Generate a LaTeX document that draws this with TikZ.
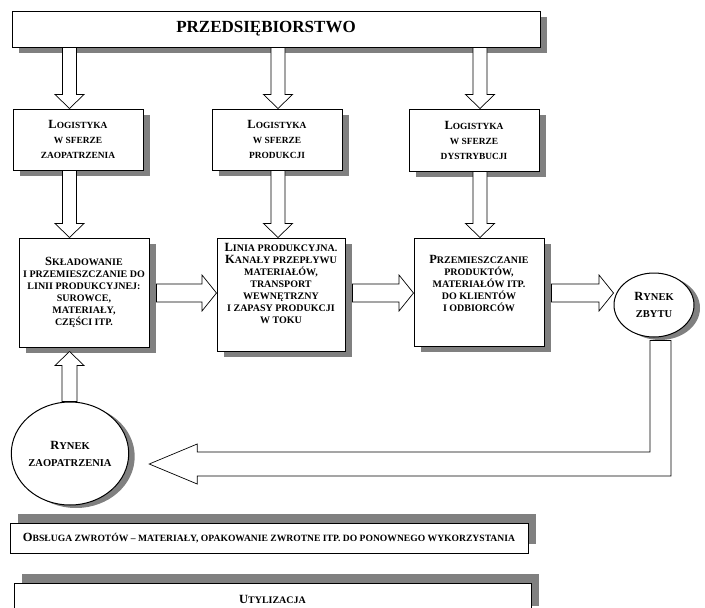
\documentclass[tikz,border=0pt]{standalone}
\usepackage{fontspec}
\setmainfont{Liberation Serif}
\usetikzlibrary{calc,shadows,shapes.geometric}
\definecolor{cienSzary}{HTML}{808080}
\newcommand{\wielka}[1]{{\fontsize{12.5}{12}\selectfont #1}}

\begin{document}
\begin{tikzpicture}[x=1pt,y=-1pt,
  ramka/.style={draw,line width=1pt,fill=white,inner sep=0pt},
  cien/.style={drop shadow={shadow xshift=7pt,shadow yshift=-6pt,fill=cienSzary,opacity=1}},
  cienKolo/.style={drop shadow={shadow xshift=6pt,shadow yshift=-3pt,fill=cienSzary,opacity=1}},
  cienGora/.style={drop shadow={shadow xshift=8pt,shadow yshift=9pt,fill=cienSzary,opacity=1}},
  tekstA/.style={font=\fontsize{9.4}{15}\selectfont\bfseries,align=center},
  tekstB/.style={font=\fontsize{10}{12}\selectfont\bfseries,align=center},
  tekstC/.style={font=\fontsize{10.5}{17}\selectfont\bfseries,align=center},
  blok/.style={draw,line width=0.7pt,fill=white},
  strzDol/.style={blok,to path={let \p1=(\tikztostart),\p2=(\tikztotarget) in
    (\x1-7pt,\y1) -- (\x1-7pt,\y2+14pt) -- (\x1-14.5pt,\y2+14pt) -- (\x1,\y2)
    -- (\x1+14.5pt,\y2+14pt) -- (\x1+7pt,\y2+14pt) -- (\x1+7pt,\y1) -- cycle}},
  strzGora/.style={blok,to path={let \p1=(\tikztostart),\p2=(\tikztotarget) in
    (\x1-7.5pt,\y1) -- (\x1-7.5pt,\y2-14pt) -- (\x1-14.5pt,\y2-14pt) -- (\x1,\y2)
    -- (\x1+14.5pt,\y2-14pt) -- (\x1+7.5pt,\y2-14pt) -- (\x1+7.5pt,\y1) -- cycle}},
  strzPrawo/.style={blok,to path={let \p1=(\tikztostart),\p2=(\tikztotarget) in
    (\x1,\y1+9pt) -- (\x2-14.5pt,\y1+9pt) -- (\x2-14.5pt,\y1+18pt) -- (\x2,\y1)
    -- (\x2-14.5pt,\y1-18pt) -- (\x2-14.5pt,\y1-9pt) -- (\x1,\y1-9pt) -- cycle}}]
\clip (0,0) rectangle (705,608);
\fill[white] (0,0) rectangle (705,608);

\coordinate (kol1) at (69.5,0);
\coordinate (kol2) at (278,0);
\coordinate (kol3) at (480,0);
\coordinate (wiersz) at (0,293);
\coordinate (zwrot) at (660.5,464);

% przedsiebiorstwo
\node[ramka,cien,minimum width=528pt,minimum height=36pt,font=\fontsize{17}{20}\selectfont\bfseries] (firma) at (276,29) {PRZEDSIĘBIORSTWO\hspace*{20pt}};

% logistyka
\node[ramka,cien,tekstA,minimum width=130pt,minimum height=61pt] (zaopLog) at (78,139.5) {\wielka{L}OGISTYKA\\W SFERZE\\ZAOPATRZENIA};
\node[ramka,cien,tekstA,minimum width=130pt,minimum height=61pt] (prodLog) at (277,139.5) {\wielka{L}OGISTYKA\\W SFERZE\\PRODUKCJI};
\node[ramka,cien,tekstA,minimum width=130pt,minimum height=62pt] (dystLog) at (474,140) {\wielka{L}OGISTYKA\\W SFERZE\\DYSTRYBUCJI};

% przeplyw
\node[ramka,cien,tekstB,minimum width=130pt,minimum height=109pt] (skladowanie) at (84,292.5) {\wielka{S}KŁADOWANIE\\I PRZEMIESZCZANIE DO\\LINII PRODUKCYJNEJ:\\SUROWCE,\\MATERIAŁY,\\CZĘŚCI ITP.};
\node[ramka,cien,minimum width=128pt,minimum height=113pt] (linia) at (281,294.5) {};
\node[tekstB] (liniaTekst) at (281,283) {\wielka{L}INIA PRODUKCYJNA.\\\wielka{K}ANAŁY PRZEPŁYWU\\MATERIAŁÓW,\\TRANSPORT\\WEWNĘTRZNY\\I ZAPASY PRODUKCJI\\W TOKU};
\node[ramka,cien,minimum width=130pt,minimum height=108pt] (przemieszczanie) at (479,292) {};
\node[tekstB] (przemTekst) at (479,283) {\wielka{P}RZEMIESZCZANIE\\PRODUKTÓW,\\MATERIAŁÓW ITP.\\DO KLIENTÓW\\I ODBIORCÓW};

% rynki
\node[ramka,ellipse,cienKolo,tekstC,minimum width=80pt,minimum height=64pt] (zbyt) at (654,305) {\wielka{R}YNEK\\ZBYTU};
\node[ramka,ellipse,cienKolo,tekstC,minimum width=108pt,minimum height=103pt] (zaop) at (70,453.5) {\wielka{R}YNEK\\ZAOPATRZENIA};

% zwroty i utylizacja
\node[ramka,cienGora,tekstB,font=\fontsize{9.6}{12}\selectfont\bfseries,minimum width=518pt,minimum height=30pt] (obsluga) at (269,538) {\wielka{O}BSŁUGA ZWROTÓW – MATERIAŁY, OPAKOWANIE ZWROTNE ITP. DO PONOWNEGO WYKORZYSTANIA};
\node[ramka,cienGora,tekstB,minimum width=517pt,minimum height=32pt] (utylizacja) at (272.5,599) {\wielka{U}TYLIZACJA};

% strzalki
\draw[strzDol] (firma.south -| kol1) to (zaopLog.north -| kol1);
\draw[strzDol] (firma.south -| kol2) to (prodLog.north -| kol2);
\draw[strzDol] (firma.south -| kol3) to (dystLog.north -| kol3);
\draw[strzDol] (zaopLog.south -| kol1) to (skladowanie.north -| kol1);
\draw[strzDol] (prodLog.south -| kol2) to (linia.north -| kol2);
\draw[strzDol] (dystLog.south -| kol3) to (przemieszczanie.north -| kol3);
\draw[strzGora] (zaop.north -| kol1) to ($(skladowanie.south -| kol1)+(0,4)$);
\draw[strzPrawo] ($(skladowanie.east |- wiersz)+(7,0)$) to (linia.west |- wiersz);
\draw[strzPrawo] ($(linia.east |- wiersz)+(7,0)$) to (przemieszczanie.west |- wiersz);
\draw[strzPrawo] ($(przemieszczanie.east |- wiersz)+(7,0)$) to (zbyt.west |- wiersz);
\draw[blok] let \p1=($(zbyt.south)+(0,3)$),\p2=(zwrot),\p3=($(zaop.east)+(20,0)$) in
  (\x2-10.5pt,\y1) -- (\x2-10.5pt,\y2+12pt) -- (\x3+48pt,\y2+12pt) -- (\x3+48pt,\y2+20pt)
  -- (\x3,\y2) -- (\x3+48pt,\y2-20pt) -- (\x3+48pt,\y2-12pt) -- (\x2+10.5pt,\y2-12pt)
  -- (\x2+10.5pt,\y1) -- cycle;
\end{tikzpicture}
\end{document}
